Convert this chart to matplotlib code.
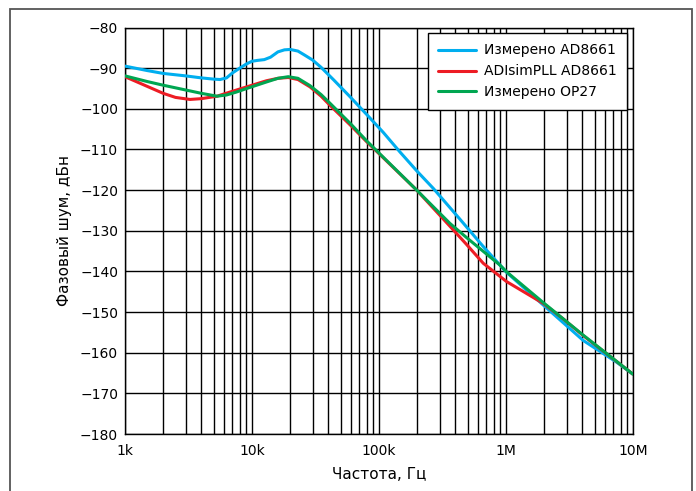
import matplotlib
matplotlib.use("Agg")
import matplotlib.pyplot as plt
from matplotlib.patches import Rectangle

# --- data (frequency in Hz, phase noise in dBc/Hz) ---
f_blue = [1e3, 1.5e3, 2e3, 3e3, 4e3, 5e3, 5.6e3, 6.3e3, 7e3, 8e3, 9e3, 10e3, 11e3,
          12.5e3, 14e3, 16e3, 18e3, 20e3, 23e3, 26e3, 30e3, 35e3, 44e3, 59e3, 80e3,
          108e3, 146e3, 200e3, 268e3, 435e3, 650e3, 1e6, 1.97e6, 4.06e6, 7.4e6, 10e6]
n_blue = [-89.5, -90.6, -91.3, -91.9, -92.4, -92.7, -92.8, -92.4, -91.2, -90.0, -89.0,
          -88.3, -88.1, -87.9, -87.3, -86.0, -85.5, -85.4, -85.8, -86.8, -88.0, -89.8,
          -92.9, -97.0, -101.4, -105.8, -110.6, -115.4, -119.6, -127.2, -133.6, -140.1,
          -148.3, -157.0, -162.3, -165.3]

f_red = [1e3, 1.5e3, 2e3, 2.5e3, 3.25e3, 4e3, 5.3e3, 7e3, 9.1e3, 13e3, 16e3, 19.3e3,
         23e3, 28.6e3, 35e3, 41e3, 59e3, 80e3, 198e3, 362e3, 490e3, 662e3, 1.01e6,
         1.97e6, 2.8e6, 4.06e6, 10e6]
n_red = [-92.1, -94.5, -96.2, -97.2, -97.7, -97.5, -96.9, -95.7, -94.6, -93.1, -92.5,
         -92.3, -92.8, -94.6, -96.9, -99.1, -103.9, -108.1, -120.0, -128.9, -133.4,
         -138.0, -142.5, -147.9, -151.6, -155.8, -165.3]

f_green = [1e3, 1.5e3, 2e3, 3.25e3, 4e3, 5.3e3, 6.3e3, 7.5e3, 9.1e3, 13e3, 16e3,
           19.3e3, 23e3, 28.6e3, 35e3, 41e3, 59e3, 80e3, 198e3, 362e3, 490e3, 900e3,
           1.01e6, 1.97e6, 4.06e6, 10e6]
n_green = [-91.9, -93.3, -94.2, -95.6, -96.2, -96.9, -96.6, -95.9, -95.0, -93.4, -92.5,
           -92.1, -92.5, -94.3, -96.5, -98.6, -103.5, -107.9, -120.0, -128.2, -131.7,
           -138.5, -140.1, -147.7, -155.7, -165.3]

labels = ["Измерено AD8661", "ADIsimPLL AD8661", "Измерено OP27"]
colors = ["#00AEEF", "#ED1C24", "#00A651"]

x_ticks = [1e3, 1e4, 1e5, 1e6, 1e7]
x_ticklabels = ["1k", "10k", "100k", "1M", "10M"]
y_ticks = list(range(-180, -79, 10))

plt.rcParams["font.family"] = ["DejaVu Sans"]

fig = plt.figure(figsize=(6.96, 4.91), dpi=100)
ax = fig.add_axes([125 / 696, 1 - 434 / 491, (633 - 125) / 696, (434 - 27.5) / 491])

for f, n, c, lab in zip([f_blue, f_red, f_green], [n_blue, n_red, n_green], colors, labels):
    ax.plot(f, n, color=c, lw=2.2, label=lab, solid_capstyle="round",
            solid_joinstyle="round", zorder=3)

ax.set_xscale("log")
ax.set_xlim(1e3, 1e7)
ax.set_ylim(-180, -80)
ax.set_xticks(x_ticks)
ax.set_xticklabels(x_ticklabels)
ax.set_yticks(y_ticks)
ax.set_yticklabels([f"\u2212{abs(v)}" for v in y_ticks])
ax.grid(True, which="both", color="black", lw=1.0)
ax.tick_params(which="both", length=0, labelsize=10, colors="black")
ax.tick_params(axis="x", pad=7)
ax.tick_params(axis="y", pad=5)
for s in ax.spines.values():
    s.set_color("black")
    s.set_linewidth(1.0)

ax.set_xlabel("Частота, Гц", fontsize=11, labelpad=7)
ax.set_ylabel("Фазовый шум, дБн", fontsize=11, labelpad=6)

leg = ax.legend(loc="upper right", fontsize=10, fancybox=False, framealpha=1,
                edgecolor="black", handlelength=2.7, handletextpad=0.6,
                borderaxespad=0.4, labelspacing=0.5, borderpad=0.75)
leg.get_frame().set_linewidth(1.0)

# grey outer frame around the whole illustration (open at the bottom edge)
fig.patches.append(Rectangle((10 / 696, -0.05), (692 - 10) / 696, 1.05 - 9 / 491,
                             transform=fig.transFigure, fill=False,
                             edgecolor="#555555", lw=1.3))

fig.savefig("out.png", dpi=100)
